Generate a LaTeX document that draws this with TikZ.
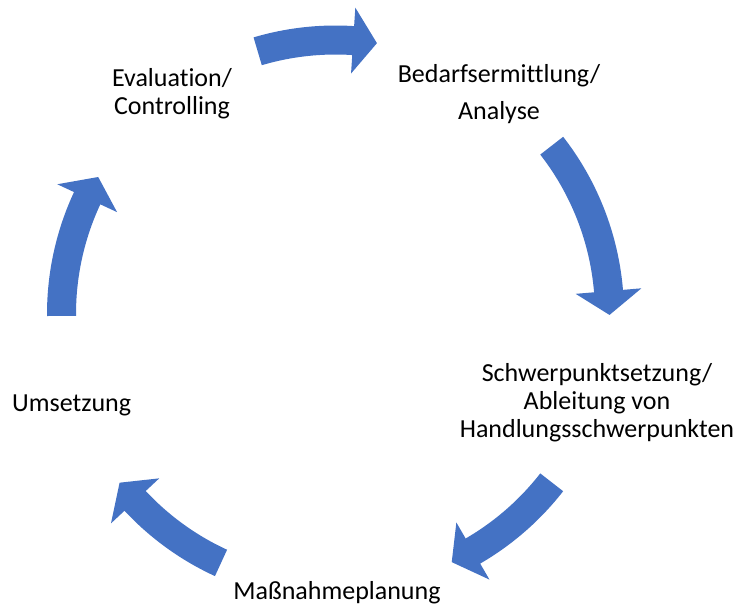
\documentclass[tikz,border=0pt]{standalone}
\usepackage{fontspec}
\setmainfont{Carlito}[Ligatures=NoCommon]
\definecolor{cycleblue}{RGB}{68,114,196}
\tikzset{
  steplabel/.style={inner sep=0pt,align=center,font=\fontsize{26}{28}\selectfont},
  cyclearrow/.style={fill=cycleblue,draw=none}
}
\newcommand{\cyclearrowpath}[2]{%
  \fill[cyclearrow] (#1:288.5) arc[start angle=#1,end angle=#2+5,radius=288.5]
    -- ({#2+5}:307) -- (#2:274) -- ({#2+5}:241) -- ({#2+5}:259.5)
    arc[start angle=#2+5,end angle=#1,radius=259.5] -- cycle;}

\begin{document}
\begin{tikzpicture}[x=1pt,y=1pt]
  \useasboundingbox (0,0) rectangle (742,603);
  \coordinate (mid) at (335.5,289);

  \begin{scope}[shift={(mid)}]
    \foreach \a/\b in {106.5/81.3,37.9/-0.2,-37.9/-64.9,-114.7/-142,180.4/150}
      {\cyclearrowpath{\a}{\b}}
  \end{scope}

  \node[steplabel] (eval) at (172,509) {Evaluation/\\Controlling};
  \node[steplabel] (bedarf) at (499,508.5) {Bedarfsermittlung/\\[9pt]Analyse};
  \node[steplabel] (schwer) at (597,200) {Schwerpunktsetzung/\\Ableitung von\\Handlungsschwerpunkten};
  \node[steplabel,anchor=base west] (umsetz) at (12,191) {Umsetzung};
  \node[steplabel,anchor=base] (massn) at (337,4) {Maßnahmeplanung};
\end{tikzpicture}
\end{document}
